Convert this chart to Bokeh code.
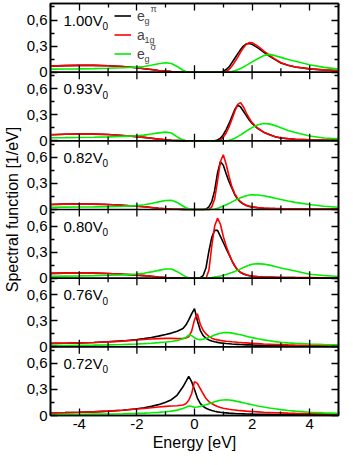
import math
from bokeh.plotting import figure
from bokeh.models import Range1d, LinearAxis, FixedTicker, Span, Label, Legend, LegendItem
from bokeh.embed import file_html
from bokeh.resources import INLINE

# ---------------- data ----------------
E = [-5, -4.5, -4, -3.5, -3, -2.5, -2, -1.75, -1.5, -1.25, -1, -0.8, -0.6, -0.4,
     -0.3, -0.2, -0.1, 0.0, 0.1, 0.2, 0.3, 0.4, 0.5, 0.6, 0.7, 0.8, 0.9, 1.0, 1.1,
     1.2, 1.3, 1.4, 1.5, 1.6, 1.7, 1.8, 1.9, 2.0, 2.2, 2.4, 2.6, 2.8, 3.0, 3.25, 3.5,
     4.0, 4.5, 5.0]

PANEL_V = ["1.00", "0.93", "0.82", "0.80", "0.76", "0.72"]

# panel 1.00 V0
EPI_100 = [0.070, 0.075, 0.078, 0.078, 0.074, 0.065, 0.050, 0.040, 0.030, 0.020, 0.012, 0.007, 0.004, 0.002,
           0.001, 0, 0, 0, 0, 0, 0, 0, 0, 0, 0, 0, 0.0,
           0.01, 0.03, 0.06, 0.11, 0.16, 0.21, 0.26, 0.30, 0.325, 0.33, 0.32,
           0.28, 0.23, 0.185, 0.145, 0.105, 0.08, 0.06, 0.038, 0.025, 0.017]
A1G_100 = [0.070, 0.075, 0.078, 0.078, 0.074, 0.065, 0.050, 0.040, 0.030, 0.020, 0.012, 0.007, 0.004, 0.002,
           0.001, 0, 0, 0, 0, 0, 0, 0, 0, 0, 0, 0, 0,
           0.0, 0.01, 0.03, 0.07, 0.12, 0.17, 0.23, 0.28, 0.32, 0.34, 0.338,
           0.30, 0.245, 0.195, 0.15, 0.108, 0.08, 0.06, 0.038, 0.026, 0.018]
ESG_100 = [0.035, 0.036, 0.038, 0.041, 0.045, 0.050, 0.058, 0.066, 0.080, 0.097, 0.108, 0.100, 0.065, 0.022,
           0.008, 0.002, 0, 0, 0, 0, 0, 0, 0, 0, 0, 0, 0,
           0, 0, 0.002, 0.006, 0.015, 0.028, 0.043, 0.06, 0.078, 0.098, 0.118,
           0.155, 0.19, 0.205, 0.19, 0.17, 0.145, 0.125, 0.085, 0.055, 0.035]

# panel 0.93 V0
EPI_093 = [0.070, 0.075, 0.078, 0.077, 0.072, 0.062, 0.048, 0.040, 0.030, 0.020, 0.012, 0.007, 0.004, 0.002,
           0.001, 0, 0, 0, 0, 0, 0, 0, 0, 0, 0.0, 0.01, 0.03,
           0.07, 0.13, 0.20, 0.28, 0.36, 0.41, 0.39, 0.34, 0.29, 0.24, 0.20,
           0.14, 0.10, 0.072, 0.048, 0.032, 0.024, 0.018, 0.012, 0.009, 0.007]
A1G_093 = [0.070, 0.075, 0.078, 0.077, 0.072, 0.062, 0.048, 0.040, 0.030, 0.020, 0.012, 0.007, 0.004, 0.002,
           0.001, 0, 0, 0, 0, 0, 0, 0, 0, 0, 0, 0.0, 0.01,
           0.04, 0.09, 0.16, 0.25, 0.34, 0.42, 0.44, 0.39, 0.32, 0.26, 0.21,
           0.145, 0.10, 0.07, 0.048, 0.034, 0.025, 0.019, 0.013, 0.010, 0.008]
ESG_093 = [0.036, 0.037, 0.039, 0.042, 0.046, 0.051, 0.058, 0.066, 0.078, 0.092, 0.100, 0.090, 0.045, 0.010,
           0.003, 0, 0, 0, 0, 0, 0, 0, 0, 0, 0, 0, 0,
           0, 0.002, 0.006, 0.015, 0.03, 0.048, 0.068, 0.09, 0.112, 0.133, 0.152,
           0.185, 0.20, 0.195, 0.175, 0.15, 0.12, 0.095, 0.055, 0.033, 0.022]

# panel 0.82 V0
EPI_082 = [0.058, 0.062, 0.064, 0.062, 0.057, 0.049, 0.038, 0.031, 0.023, 0.015, 0.009, 0.005, 0.003, 0.001,
           0, 0, 0, 0, 0, 0, 0.0, 0.005, 0.03, 0.09, 0.22, 0.42, 0.55,
           0.51, 0.41, 0.32, 0.245, 0.17, 0.118, 0.084, 0.062, 0.046, 0.036, 0.028,
           0.02, 0.015, 0.012, 0.010, 0.009, 0.008, 0.007, 0.006, 0.005, 0.004]
A1G_082 = [0.058, 0.062, 0.064, 0.062, 0.057, 0.049, 0.038, 0.031, 0.023, 0.015, 0.009, 0.005, 0.003, 0.001,
           0, 0, 0, 0, 0, 0, 0, 0, 0.0, 0.03, 0.12, 0.33, 0.55,
           0.63, 0.52, 0.38, 0.26, 0.18, 0.125, 0.09, 0.065, 0.05, 0.038, 0.03,
           0.022, 0.017, 0.014, 0.012, 0.010, 0.009, 0.008, 0.006, 0.005, 0.005]
ESG_082 = [0.025, 0.027, 0.028, 0.030, 0.033, 0.037, 0.045, 0.055, 0.070, 0.088, 0.103, 0.105, 0.080, 0.040,
           0.020, 0.008, 0.002, 0, 0, 0, 0, 0, 0.0, 0.002, 0.006, 0.013, 0.025,
           0.04, 0.055, 0.07, 0.088, 0.105, 0.12, 0.135, 0.148, 0.158, 0.166, 0.17,
           0.167, 0.158, 0.145, 0.13, 0.115, 0.097, 0.082, 0.057, 0.038, 0.025]

# panel 0.80 V0
EPI_080 = [0.055, 0.058, 0.060, 0.058, 0.053, 0.045, 0.035, 0.029, 0.022, 0.014, 0.008, 0.005, 0.003, 0.001,
           0, 0, 0, 0, 0.0, 0.005, 0.03, 0.12, 0.31, 0.47, 0.55, 0.55, 0.48,
           0.41, 0.34, 0.27, 0.20, 0.14, 0.092, 0.066, 0.048, 0.036, 0.028, 0.022,
           0.016, 0.013, 0.011, 0.009, 0.008, 0.007, 0.006, 0.005, 0.004, 0.004]
A1G_080 = [0.055, 0.058, 0.060, 0.058, 0.053, 0.045, 0.035, 0.029, 0.022, 0.014, 0.008, 0.005, 0.003, 0.001,
           0, 0, 0, 0, 0, 0, 0, 0.0, 0.09, 0.37, 0.60, 0.69, 0.62,
           0.48, 0.37, 0.28, 0.20, 0.14, 0.095, 0.068, 0.05, 0.038, 0.03, 0.024,
           0.018, 0.014, 0.012, 0.010, 0.009, 0.008, 0.007, 0.006, 0.005, 0.004]
ESG_080 = [0.022, 0.024, 0.026, 0.029, 0.033, 0.038, 0.046, 0.056, 0.072, 0.090, 0.106, 0.105, 0.075, 0.035,
           0.015, 0.005, 0.001, 0, 0, 0, 0.0, 0.002, 0.005, 0.008, 0.013, 0.018, 0.025,
           0.033, 0.042, 0.053, 0.065, 0.078, 0.092, 0.107, 0.122, 0.137, 0.15, 0.16,
           0.167, 0.162, 0.15, 0.135, 0.118, 0.10, 0.083, 0.045, 0.03, 0.02]

# panel 0.76 V0
EPI_076 = [0.040, 0.042, 0.045, 0.050, 0.058, 0.068, 0.085, 0.095, 0.108, 0.123, 0.142, 0.158, 0.180, 0.210,
           0.25, 0.31, 0.38, 0.44, 0.30, 0.19, 0.13, 0.098, 0.08, 0.068, 0.058, 0.051, 0.046,
           0.042, 0.038, 0.035, 0.032, 0.030, 0.028, 0.026, 0.025, 0.023, 0.022, 0.021,
           0.019, 0.017, 0.016, 0.015, 0.014, 0.013, 0.012, 0.010, 0.009, 0.008]
A1G_076 = [0.040, 0.042, 0.045, 0.050, 0.057, 0.066, 0.078, 0.084, 0.090, 0.094, 0.097, 0.097, 0.095, 0.096,
           0.10, 0.115, 0.18, 0.31, 0.38, 0.26, 0.19, 0.148, 0.12, 0.10, 0.088, 0.08, 0.074,
           0.069, 0.065, 0.062, 0.058, 0.055, 0.052, 0.05, 0.047, 0.045, 0.043, 0.041,
           0.037, 0.033, 0.03, 0.027, 0.025, 0.022, 0.02, 0.017, 0.014, 0.012]
ESG_076 = [0.015, 0.016, 0.018, 0.020, 0.023, 0.027, 0.033, 0.037, 0.042, 0.048, 0.055, 0.062, 0.073, 0.092,
           0.108, 0.135, 0.13, 0.105, 0.088, 0.083, 0.088, 0.098, 0.11, 0.123, 0.137, 0.148, 0.157,
           0.163, 0.165, 0.163, 0.158, 0.152, 0.145, 0.138, 0.13, 0.122, 0.114, 0.106,
           0.092, 0.08, 0.07, 0.06, 0.052, 0.045, 0.04, 0.032, 0.026, 0.022]

# panel 0.72 V0
EPI_072 = [0.030, 0.033, 0.037, 0.042, 0.050, 0.060, 0.078, 0.090, 0.105, 0.125, 0.153, 0.182, 0.235, 0.330,
           0.39, 0.45, 0.39, 0.30, 0.20, 0.14, 0.105, 0.083, 0.068, 0.057, 0.049, 0.042, 0.037,
           0.033, 0.030, 0.027, 0.025, 0.023, 0.021, 0.020, 0.019, 0.018, 0.017, 0.016,
           0.015, 0.014, 0.013, 0.012, 0.011, 0.010, 0.010, 0.009, 0.008, 0.007]
A1G_072 = [0.030, 0.033, 0.037, 0.042, 0.050, 0.060, 0.074, 0.081, 0.089, 0.097, 0.105, 0.110, 0.113, 0.120,
           0.135, 0.175, 0.25, 0.39, 0.37, 0.31, 0.25, 0.195, 0.16, 0.138, 0.118, 0.103, 0.092,
           0.083, 0.077, 0.071, 0.067, 0.063, 0.059, 0.056, 0.053, 0.05, 0.048, 0.046,
           0.042, 0.038, 0.035, 0.032, 0.03, 0.027, 0.025, 0.022, 0.02, 0.018]
ESG_072 = [0.012, 0.013, 0.014, 0.016, 0.018, 0.020, 0.024, 0.027, 0.031, 0.036, 0.043, 0.050, 0.062, 0.080,
           0.095, 0.11, 0.105, 0.095, 0.098, 0.105, 0.114, 0.124, 0.136, 0.148, 0.159, 0.168, 0.175,
           0.179, 0.18, 0.178, 0.174, 0.168, 0.161, 0.154, 0.146, 0.138, 0.131, 0.124,
           0.11, 0.098, 0.087, 0.077, 0.068, 0.058, 0.05, 0.038, 0.03, 0.025]

EPI = [EPI_100, EPI_093, EPI_082, EPI_080, EPI_076, EPI_072]
A1G = [A1G_100, A1G_093, A1G_082, A1G_080, A1G_076, A1G_072]
ESG = [ESG_100, ESG_093, ESG_082, ESG_080, ESG_076, ESG_072]

Y_MAJOR = [0.0, 0.3, 0.6]
Y_MAJOR_LABELS = ["0", "0,3", "0,6"]
Y_MINOR = [0.15, 0.45, 0.75]
X_MAJOR = [-4, -2, 0, 2, 4]
X_MAJOR_LABELS = ["-4", "-2", "0", "2", "4"]
X_MINOR = [-5, -3, -1, 1, 3, 5]

# ---------------- style / layout ----------------
FONT = "Liberation Sans"
YMAX = 0.79
N = len(PANEL_V)
FW, FH = 288, 412
BLACK, RED, GREEN = "#000000", "#ff0000", "#00ee00"
LW = 1.6

p = figure(frame_width=FW, frame_height=FH, output_backend="svg", toolbar_location=None,
           x_range=Range1d(-5, 5), y_range=Range1d(0, N * YMAX),
           min_border_left=46, min_border_right=2, min_border_top=3, min_border_bottom=38)
p.grid.visible = False
p.outline_line_color = "black"
p.outline_line_width = LW
p.background_fill_color = "white"
p.border_fill_color = "white"

offsets = [(N - 1 - k) * YMAX for k in range(N)]
for k in range(N):
    p.extra_y_ranges[f"p{k}"] = Range1d(-offsets[k], N * YMAX - offsets[k])

ytick_pos, ytick_over, yminor_pos = [], {}, []
for k in range(N):
    for t, lab in zip(Y_MAJOR, Y_MAJOR_LABELS):
        v = round(offsets[k] + t, 6)
        ytick_pos.append(v)
        ytick_over[v] = lab
    for m in Y_MINOR:
        yminor_pos.append(round(offsets[k] + m, 6))


def style_axis(ax):
    ax.axis_line_color = "black"
    ax.axis_line_width = LW
    ax.major_tick_in = 7
    ax.major_tick_out = 0
    ax.minor_tick_in = 4
    ax.minor_tick_out = 0
    ax.major_tick_line_width = 1.3
    ax.minor_tick_line_width = 1.3
    ax.major_label_text_font = FONT
    ax.major_label_text_font_size = "15px"
    ax.major_label_text_color = "black"
    ax.axis_label_text_font = FONT
    ax.axis_label_text_font_size = "16px"
    ax.axis_label_text_font_style = "normal"
    ax.axis_label_text_color = "black"


# left axis
yax = p.yaxis[0]
yax.ticker = FixedTicker(ticks=ytick_pos, minor_ticks=yminor_pos)
yax.major_label_overrides = ytick_over
yax.axis_label = "Spectral function [1/eV]"
style_axis(yax)
yax.major_label_standoff = 3
yax.axis_label_standoff = 3

# bottom axis
xax = p.xaxis[0]
xax.ticker = FixedTicker(ticks=X_MAJOR, minor_ticks=X_MINOR)
xax.major_label_overrides = {t: lab for t, lab in zip(X_MAJOR, X_MAJOR_LABELS)}
xax.axis_label = "Energy [eV]"
style_axis(xax)
xax.major_label_standoff = 3
xax.axis_label_standoff = 2

# right and top mirror axes (ticks only)
rax = LinearAxis(ticker=FixedTicker(ticks=ytick_pos, minor_ticks=yminor_pos),
                 major_label_overrides={v: "" for v in ytick_pos})
style_axis(rax)
rax.major_label_text_font_size = "0px"
rax.major_label_standoff = 0
p.add_layout(rax, "right")

tax = LinearAxis(ticker=FixedTicker(ticks=X_MAJOR, minor_ticks=X_MINOR),
                 major_label_overrides={t: "" for t in X_MAJOR})
style_axis(tax)
tax.major_label_text_font_size = "0px"
tax.major_label_standoff = 0
p.add_layout(tax, "above")

# curves
first = {}
for k in range(N):
    rn = f"p{k}"
    rb = p.line(E, EPI[k], line_color=BLACK, line_width=LW, y_range_name=rn)
    rr = p.line(E, A1G[k], line_color=RED, line_width=LW, y_range_name=rn)
    rg = p.line(E, ESG[k], line_color=GREEN, line_width=LW, y_range_name=rn)
    if k == 0:
        first = {"pi": rb, "a": rr, "sig": rg}

# internal panel boundaries with crossing ticks
for k in range(N - 1):
    rn = f"p{k}"
    p.add_layout(Span(location=0, dimension="width", y_range_name=rn,
                      line_color="black", line_width=LW))
    p.scatter(X_MAJOR, [0] * len(X_MAJOR), marker="dash", angle=math.pi / 2, size=14,
              line_color="black", line_width=1.3, y_range_name=rn)
    p.scatter(X_MINOR, [0] * len(X_MINOR), marker="dash", angle=math.pi / 2, size=8,
              line_color="black", line_width=1.3, y_range_name=rn)

# panel labels
LBL_X, LBL_Y = -4.55, 0.6
for k, v in enumerate(PANEL_V):
    rn = f"p{k}"
    p.add_layout(Label(x=LBL_X, y=LBL_Y, y_range_name=rn, text=f"{v}V",
                       text_font=FONT, text_font_size="15px", text_baseline="middle",
                       text_color="black"))
    p.add_layout(Label(x=LBL_X, y=LBL_Y, y_range_name=rn, text="0", x_offset=39, y_offset=-6,
                       text_font=FONT, text_font_size="10px", text_baseline="middle",
                       text_color="black"))

# legend (location tuple = bottom-left corner, screen px from frame bottom-left)
LEG_X, LEG_TOP = 64, FH - 3
ROW_H, SPACING, GLYPH_W, STANDOFF = 19, 0, 17, 6
LEG_H = 3 * ROW_H + 2 * SPACING
legend = Legend(items=[LegendItem(label="e", renderers=[first["pi"]]),
                       LegendItem(label="a", renderers=[first["a"]]),
                       LegendItem(label="e", renderers=[first["sig"]])],
                location=(LEG_X, LEG_TOP - LEG_H), label_text_font=FONT,
                label_text_font_size="14px",
                glyph_width=GLYPH_W, glyph_height=ROW_H, label_height=ROW_H, spacing=SPACING,
                padding=0, margin=0, label_standoff=STANDOFF, border_line_alpha=0,
                background_fill_alpha=0)
p.add_layout(legend)

SUBS = ["g", "1g", "g"]
SUPS = ["\u03c0", "", "\u03c3"]
text_x = LEG_X + GLYPH_W + STANDOFF
for i, (sb, sp) in enumerate(zip(SUBS, SUPS)):
    cy = LEG_TOP - ROW_H / 2 - i * (ROW_H + SPACING)
    p.add_layout(Label(x=text_x + 7, y=cy - 5, x_units="screen", y_units="screen", text=sb,
                       text_font=FONT, text_font_size="9px", text_baseline="middle"))
    if sp:
        p.add_layout(Label(x=text_x + 13, y=cy + 7, x_units="screen", y_units="screen", text=sp,
                           text_font=FONT, text_font_size="9px", text_baseline="middle"))

open("out.html", "w").write(file_html(p, INLINE))
